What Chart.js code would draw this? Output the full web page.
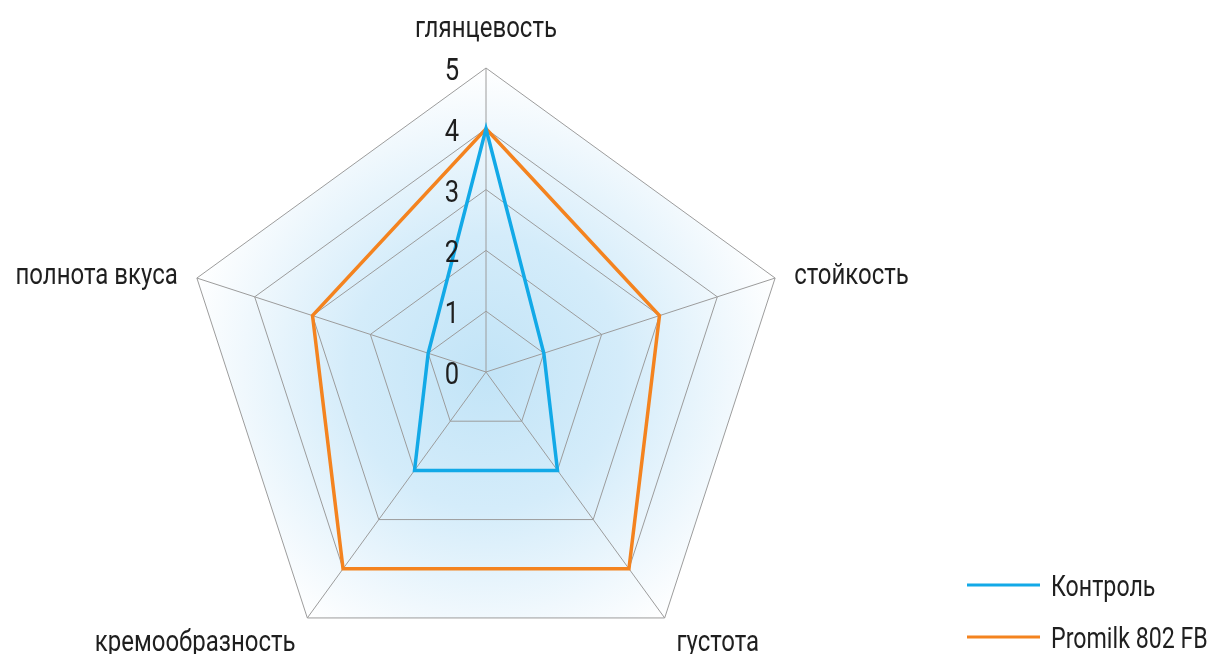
<!DOCTYPE html>
<html>
<head>
<meta charset="utf-8">
<script src="https://cdn.jsdelivr.net/npm/chart.js@4/dist/chart.umd.min.js"></script>
<style>
  html, body { margin: 0; padding: 0; background: #fff; overflow: hidden; }
  #wrap { position: relative; width: 1227px; height: 700px; }
</style>
</head>
<body>
<div id="wrap"><canvas id="radarChart"></canvas></div>
<script>
// Показатели и оценки (баллы 0..5)
const categories = ["глянцевость", "стойкость", "густота", "кремообразность", "полнота вкуса"];
const controlValues = [4, 1, 2, 2, 1];
const promilkValues = [4, 3, 4, 4, 3];
const seriesNames = ["Контроль", "Promilk 802 FB"];
const tickLabels = ["0", "1", "2", "3", "4", "5"];

const FONT = "Roboto, 'DejaVu Sans Condensed', sans-serif";
const TEXT_COLOR = "#1f1f1f";
const NARROW = 0.8; // сжатие текста по горизонтали

// узкий текст: рисуем обычным шрифтом со сжатием по x
function narrowText(ctx, text, x, y, align) {
  ctx.save();
  ctx.translate(x, y);
  ctx.scale(NARROW, 1);
  ctx.textAlign = align;
  ctx.fillText(text, 0, 0);
  ctx.restore();
}

// мягкая голубая заливка внутри внешнего пятиугольника
const glowPlugin = {
  id: "glow",
  beforeDraw(chart) {
    const scale = chart.scales.r;
    const ctx = chart.ctx;
    const r = scale.drawingArea;
    const n = chart.data.labels.length;
    ctx.save();
    ctx.beginPath();
    for (let i = 0; i < n; i++) {
      const p = scale.getPointPosition(i, r);
      if (i === 0) ctx.moveTo(p.x, p.y);
      else ctx.lineTo(p.x, p.y);
    }
    ctx.closePath();
    const g = ctx.createRadialGradient(scale.xCenter, scale.yCenter, 0, scale.xCenter, scale.yCenter, r);
    g.addColorStop(0, "rgb(194,228,247)");
    g.addColorStop(0.45, "rgb(212,236,250)");
    g.addColorStop(0.8, "rgb(240,248,253)");
    g.addColorStop(1, "rgb(255,255,255)");
    ctx.fillStyle = g;
    ctx.fill();
    ctx.restore();
  },
};

// подписи шкалы слева от вертикальной оси и подписи осей
const labelsPlugin = {
  id: "radarLabels",
  afterDraw(chart) {
    const scale = chart.scales.r;
    const ctx = chart.ctx;
    ctx.save();
    ctx.fillStyle = TEXT_COLOR;
    ctx.textBaseline = "alphabetic";

    // значения шкалы
    ctx.font = "32px " + FONT;
    scale.ticks.forEach((t, i) => {
      const y = scale.yCenter - scale.getDistanceFromCenterForValue(t.value);
      narrowText(ctx, tickLabels[i], scale.xCenter - 34, y + 12, "center");
    });

    // названия показателей
    ctx.font = "30px " + FONT;
    chart.data.labels.forEach((label, i) => {
      const p = scale.getPointPosition(i, scale.drawingArea + 20);
      const deg = (scale.getIndexAngle(i) * 180) / Math.PI;
      let y = p.y;
      let align;
      if (deg < 1) {
        align = "center";
        y -= 11;
      } else if (deg > 90 && deg < 270) {
        align = deg < 180 ? "left" : "right";
        y += 17;
      } else {
        align = deg < 180 ? "left" : "right";
        y += 12;
      }
      narrowText(ctx, label, p.x, y, align);
    });
    ctx.restore();
  },
};

// легенда в правом нижнем углу
const legendPlugin = {
  id: "cornerLegend",
  afterDraw(chart, args, opts) {
    const ctx = chart.ctx;
    ctx.save();
    ctx.font = "29px " + FONT;
    ctx.textBaseline = "alphabetic";
    chart.data.datasets.forEach((ds, i) => {
      const y = opts.y + i * opts.gap;
      ctx.strokeStyle = ds.borderColor;
      ctx.lineWidth = 3;
      ctx.beginPath();
      ctx.moveTo(opts.x, y);
      ctx.lineTo(opts.x + opts.lineLength, y);
      ctx.stroke();
      ctx.fillStyle = TEXT_COLOR;
      narrowText(ctx, ds.label, opts.x + opts.lineLength + 11, y + 11, "left");
    });
    ctx.restore();
  },
};

const ctx = document.getElementById("radarChart").getContext("2d");
new Chart(ctx, {
  type: "radar",
  data: {
    labels: categories,
    datasets: [
      {
        label: seriesNames[0],
        data: controlValues,
        borderColor: "#12a9e7",
        borderWidth: 3.5,
        borderJoinStyle: "miter",
        fill: false,
        pointRadius: 0,
        pointHoverRadius: 0,
      },
      {
        label: seriesNames[1],
        data: promilkValues,
        borderColor: "#f4831f",
        borderWidth: 3.5,
        borderJoinStyle: "miter",
        fill: false,
        pointRadius: 0,
        pointHoverRadius: 0,
      },
    ],
  },
  options: {
    responsive: true,
    maintainAspectRatio: false,
    animation: false,
    layout: { padding: { left: 182, right: 437, top: 68, bottom: 24 } },
    scales: {
      r: {
        min: 0,
        max: 5,
        ticks: { stepSize: 1, display: false },
        pointLabels: { display: false },
        grid: { color: "#9c9c9c", lineWidth: 1 },
        angleLines: { color: "#9c9c9c", lineWidth: 1 },
      },
    },
    plugins: {
      legend: { display: false },
      tooltip: { enabled: false },
      cornerLegend: { x: 967, y: 585, gap: 52, lineLength: 73 },
    },
  },
  plugins: [glowPlugin, labelsPlugin, legendPlugin],
});
</script>
</body>
</html>
